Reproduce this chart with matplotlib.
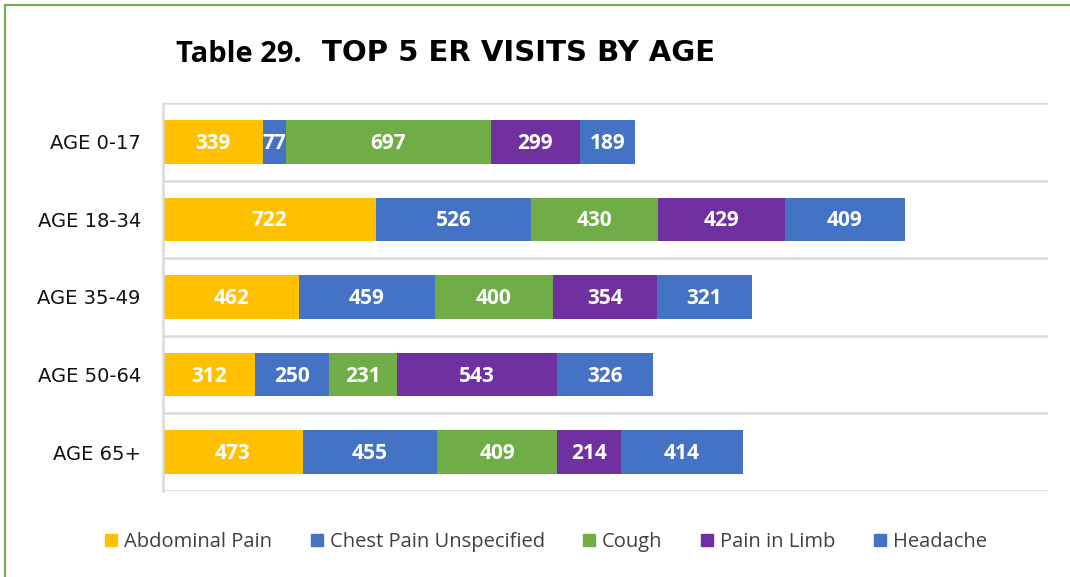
import matplotlib.pyplot as plt
from matplotlib.patches import Rectangle
from matplotlib.lines import Line2D

plt.rcParams['font.family'] = ['Open Sans', 'DejaVu Sans']

# Data
ages = ["AGE 0-17", "AGE 18-34", "AGE 35-49", "AGE 50-64", "AGE 65+"]
series = ["Abdominal Pain", "Chest Pain Unspecified", "Cough", "Pain in Limb", "Headache"]
abdominal = [339, 722, 462, 312, 473]
chest = [77, 526, 459, 250, 455]
cough = [697, 430, 400, 231, 409]
limb = [299, 429, 354, 543, 214]
headache = [189, 409, 321, 326, 414]
colors = ["#FFC000", "#4472C4", "#70AD47", "#7030A0", "#4472C4"]

values = [abdominal, chest, cough, limb, headache]

fig = plt.figure(figsize=(10.7, 5.77), dpi=100)
ax = fig.add_axes([163 / 1070, 1 - 491 / 577, (1048 - 163) / 1070, (491 - 103) / 577])

ypos = list(range(len(ages)))
left = [0] * len(ages)
for name, vals, col in zip(series, values, colors):
    bars = ax.barh(ypos, vals, left=left, height=0.56, color=col, label=name)
    for b, v in zip(bars, vals):
        ax.text(b.get_x() + b.get_width() / 2, b.get_y() + b.get_height() / 2 + 0.02, str(v),
                ha="center", va="center", color="white", fontsize=15, fontweight="bold")
    left = [l + v for l, v in zip(left, vals)]

ax.set_xlim(0, 3000)
ax.set_ylim(len(ages) - 0.5, -0.5)
ax.set_yticks(ypos)
ax.set_yticklabels(ages, fontsize=14, color="#111111", family="DejaVu Sans")
ax.tick_params(axis="y", length=0, pad=16)
ax.set_xticks([])

# category separators
for i in range(len(ages) + 1):
    ax.axhline(i - 0.5, color="#D9D9D9", lw=1.8, zorder=0)
for s in ["top", "right", "bottom"]:
    ax.spines[s].set_visible(False)
ax.spines["left"].set_color("#D9D9D9")
ax.spines["left"].set_linewidth(1.8)

# title
fig.text(176 / 1070, 1 - 62 / 577, "Table 29.", fontsize=21, fontweight="bold",
         va="baseline", ha="left", color="black")
fig.text(322 / 1070, 1 - 61 / 577, "TOP 5 ER VISITS BY AGE", fontsize=21, fontweight="bold",
         va="baseline", ha="left", color="black", family="DejaVu Sans")

# legend
handles = [Rectangle((0, 0), 1, 1, color=c) for c in colors]
fig.legend(handles, series, loc="center", bbox_to_anchor=(546 / 1070, 1 - 542 / 577),
           ncol=5, frameon=False, fontsize=14.5, handlelength=0.6, handleheight=0.6,
           handletextpad=0.35, columnspacing=1.9, labelcolor="#404040")

# green outer border (top and left)
fig.add_artist(Line2D([5 / 1070, 1], [1 - 5 / 577, 1 - 5 / 577], color="#70AD47", lw=1.5))
fig.add_artist(Line2D([5 / 1070, 5 / 1070], [0, 1 - 5 / 577], color="#70AD47", lw=1.5))

fig.savefig("out.png", dpi=100)
